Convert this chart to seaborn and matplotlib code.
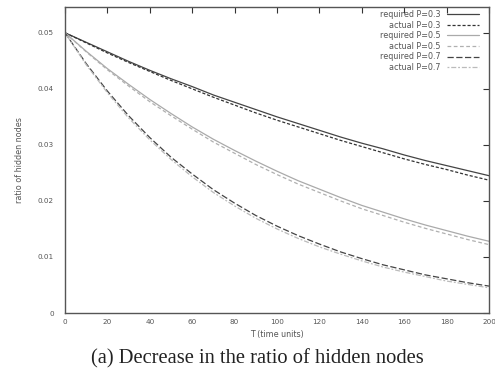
import matplotlib
matplotlib.use("Agg")
import matplotlib.pyplot as plt
import seaborn as sns
import pandas as pd

T = [0, 10, 20, 30, 40, 50, 60, 70, 80, 90, 100, 110, 120, 130, 140, 150, 160, 170, 180, 190, 200]

required_p03 = [0.0500, 0.0483, 0.0466, 0.0449, 0.0433, 0.0418, 0.0404, 0.0389, 0.0376, 0.0363, 0.0350,
                0.0338, 0.0326, 0.0314, 0.0303, 0.0293, 0.0282, 0.0272, 0.0263, 0.0254, 0.0245]
actual_p03 = [0.0500, 0.0482, 0.0464, 0.0447, 0.0431, 0.0415, 0.0400, 0.0385, 0.0371, 0.0357, 0.0344,
              0.0332, 0.0320, 0.0308, 0.0297, 0.0286, 0.0275, 0.0265, 0.0256, 0.0246, 0.0237]
required_p05 = [0.0500, 0.0467, 0.0436, 0.0408, 0.0381, 0.0356, 0.0332, 0.0310, 0.0290, 0.0271, 0.0253,
                0.0236, 0.0221, 0.0206, 0.0192, 0.0180, 0.0168, 0.0157, 0.0147, 0.0137, 0.0128]
actual_p05 = [0.0500, 0.0466, 0.0434, 0.0405, 0.0377, 0.0352, 0.0328, 0.0305, 0.0285, 0.0265, 0.0247,
              0.0230, 0.0215, 0.0200, 0.0186, 0.0174, 0.0162, 0.0151, 0.0141, 0.0131, 0.0122]
required_p07 = [0.0500, 0.0445, 0.0396, 0.0352, 0.0313, 0.0278, 0.0248, 0.0220, 0.0196, 0.0174, 0.0155,
                0.0138, 0.0123, 0.0109, 0.0097, 0.0086, 0.0077, 0.0068, 0.0061, 0.0054, 0.0048]
actual_p07 = [0.0500, 0.0443, 0.0393, 0.0348, 0.0309, 0.0274, 0.0243, 0.0215, 0.0191, 0.0169, 0.0150,
              0.0133, 0.0118, 0.0105, 0.0093, 0.0082, 0.0073, 0.0065, 0.0057, 0.0051, 0.0045]

series_names = ["required P=0.3", "actual P=0.3", "required P=0.5",
                "actual P=0.5", "required P=0.7", "actual P=0.7"]
series_values = [required_p03, actual_p03, required_p05, actual_p05, required_p07, actual_p07]

x_ticks = [0, 20, 40, 60, 80, 100, 120, 140, 160, 180, 200]
y_ticks = [0, 0.01, 0.02, 0.03, 0.04, 0.05]
y_tick_labels = ["0", "0.01", "0.02", "0.03", "0.04", "0.05"]

colors = ["#444444", "#333333", "#aaaaaa", "#b0b0b0", "#444444", "#bbbbbb"]
styles = ["-", (0, (2.5, 1.5)), "-", (0, (3, 2)), (0, (5, 2)), (0, (1.5, 1.5, 4, 1.5))]

sns.set_style("white")
fig = plt.figure(figsize=(4.95, 3.71), dpi=100)
ax = fig.add_axes([65 / 495, 1 - 313 / 371, (489 - 65) / 495, (313 - 7) / 371])

for name, vals, c, ls in zip(series_names, series_values, colors, styles):
    df = pd.DataFrame({"T": T, "v": vals})
    sns.lineplot(data=df, x="T", y="v", ax=ax, color=c, linestyle=ls,
                 linewidth=0.9, label=name)

ax.set_xlim(0, 200)
ax.set_ylim(0, 0.0546)
ax.set_xticks(x_ticks)
ax.set_xticklabels([str(t) for t in x_ticks])
ax.set_yticks(y_ticks)
ax.set_yticklabels(y_tick_labels)
ax.tick_params(axis="both", direction="in", length=4, width=0.8, color="#333333",
               labelsize=5.2, labelcolor="#555555", top=True, right=True)
ax.tick_params(axis="x", pad=4)
ax.tick_params(axis="y", pad=8)
for s in ax.spines.values():
    s.set_color("#555555")
    s.set_linewidth(1.0)

ax.set_xlabel("T (time units)", fontsize=5.8, color="#555555", labelpad=4)
ax.set_ylabel("ratio of hidden nodes", fontsize=5.8, color="#555555", labelpad=10)

leg = ax.legend(loc="upper right", frameon=False, markerfirst=False, fontsize=5.8,
                handlelength=4.0, labelspacing=0.2, borderaxespad=0, borderpad=0,
                handletextpad=0.75,
                bbox_to_anchor=(479 / 495, 1 - 10 / 371), bbox_transform=fig.transFigure)
for t in leg.get_texts():
    t.set_color("#555555")

fig.text(257 / 495, 1 - 359 / 371, "(a) Decrease in the ratio of hidden nodes",
         ha="center", va="center", fontsize=14.8, family="Liberation Serif", color="#222222")

fig.savefig("out.png", dpi=100)
